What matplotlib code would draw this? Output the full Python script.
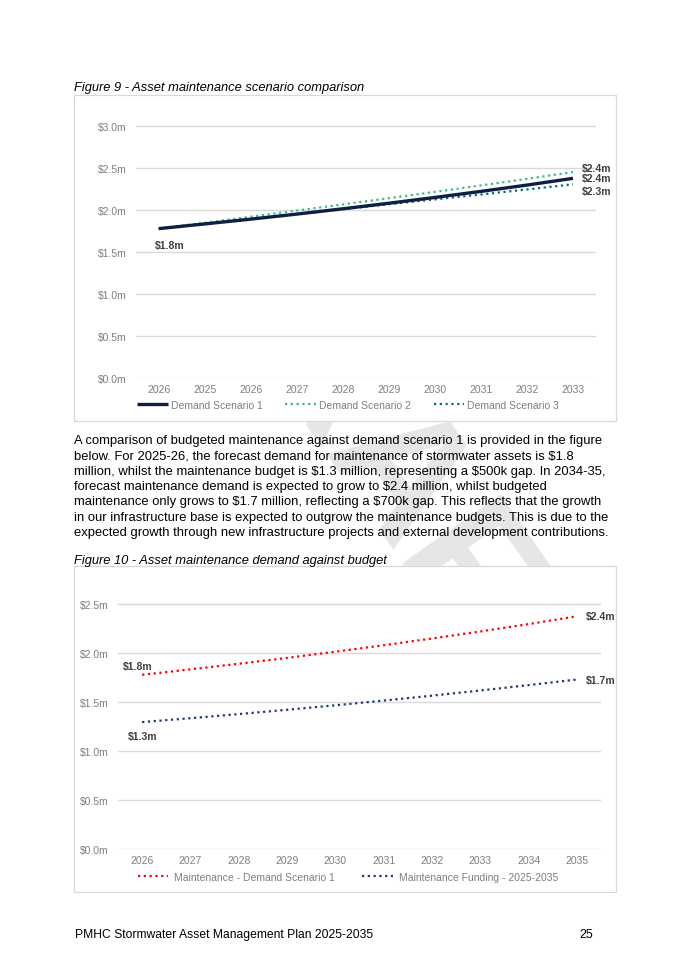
import matplotlib
matplotlib.use("Agg")
import matplotlib.pyplot as plt
from matplotlib.patches import Rectangle
from matplotlib.ticker import FuncFormatter, MultipleLocator

# ---------------- data ----------------
fig9_years = ["2026", "2025", "2026", "2027", "2028", "2029", "2030", "2031", "2032", "2033"]
scenario1 = [1.776, 1.832, 1.889, 1.949, 2.012, 2.078, 2.147, 2.219, 2.294, 2.374]
scenario2 = [1.776, 1.846, 1.918, 1.991, 2.064, 2.138, 2.213, 2.290, 2.368, 2.449]
scenario3 = [1.776, 1.833, 1.891, 1.950, 2.008, 2.066, 2.124, 2.182, 2.242, 2.303]
fig9_series = ["Demand Scenario 1", "Demand Scenario 2", "Demand Scenario 3"]

fig10_years = ["2026", "2027", "2028", "2029", "2030", "2031", "2032", "2033", "2034", "2035"]
demand1 = [1.776, 1.832, 1.889, 1.949, 2.012, 2.078, 2.147, 2.219, 2.294, 2.374]
funding = [1.293, 1.333, 1.375, 1.419, 1.465, 1.513, 1.563, 1.616, 1.671, 1.728]
fig10_series = ["Maintenance - Demand Scenario 1", "Maintenance Funding - 2025-2035"]

caption9 = "Figure 9 - Asset maintenance scenario comparison"
caption10 = "Figure 10 - Asset maintenance demand against budget"
body_lines = [
    "A comparison of budgeted maintenance against demand scenario 1 is provided in the figure",
    "below. For 2025-26, the forecast demand for maintenance of stormwater assets is $1.8",
    "million, whilst the maintenance budget is $1.3 million, representing a $500k gap. In 2034-35,",
    "forecast maintenance demand is expected to grow to $2.4 million, whilst budgeted",
    "maintenance only grows to $1.7 million, reflecting a $700k gap. This reflects that the growth",
    "in our infrastructure base is expected to outgrow the maintenance budgets. This is due to the",
    "expected growth through new infrastructure projects and external development contributions.",
]
footer_left = "PMHC Stormwater Asset Management Plan 2025-2035"
footer_right = "25"

# ---------------- layout helpers ----------------
W, H = 685, 970
plt.rcParams['font.family'] = ['Liberation Sans', 'DejaVu Sans']
fig = plt.figure(figsize=(W / 100, H / 100), dpi=100)
fig.patch.set_facecolor("white")


def fx(px):
    return px / W


def fy(py):
    return 1 - py / H


def add_axes_px(left, top, right, bottom):
    return fig.add_axes([fx(left), fy(bottom), fx(right - left), (bottom - top) / H])


# watermark (mostly hidden behind the chart boxes)
fig.text(fx(380), fy(470), "DRAFT", rotation=-55, fontsize=125, color="#e6e6e6",
         ha="center", va="center", fontweight="bold", zorder=0, parse_math=False)

# chart boxes
for (l, t, r, b) in [(73.5, 96, 616, 421.5), (73.5, 567, 616, 893)]:
    fig.patches.append(Rectangle((fx(l), fy(b)), fx(r - l), (b - t) / H,
                                 transform=fig.transFigure, facecolor="white",
                                 edgecolor="#d9d9d9", linewidth=0.9, zorder=1))

grey = "#7f7f7f"
lab = "#404040"
money = FuncFormatter(lambda v, p: f"${v:.1f}m")


def style_axes(ax, ymax, step):
    ax.set_facecolor("none")
    ax.set_zorder(3)
    for s in ax.spines.values():
        s.set_visible(False)
    ax.set_ylim(0, ymax)
    ax.yaxis.set_major_locator(MultipleLocator(step))
    ax.yaxis.set_major_formatter(money)
    ax.grid(axis="y", color="#d9d9d9", linewidth=1.0)
    ax.set_axisbelow(True)
    ax.tick_params(axis="y", length=0, pad=6.5, labelsize=7.5, labelcolor=grey)
    ax.tick_params(axis="x", length=0, pad=4.5, labelsize=7.5, labelcolor=grey)
    ax.set_xlim(-0.5, 9.5)


# ---------------- Figure 9 ----------------
fig.text(fx(74), fy(88), caption9, fontsize=9.3, style="italic", ha="left", va="center",
         parse_math=False)
ax1 = add_axes_px(135.7, 379 - 3.1 * 84.1, 596, 379)
style_axes(ax1, 3.1, 0.5)
x1 = list(range(len(fig9_years)))
ax1.set_xticks(x1)
ax1.set_xticklabels(fig9_years)
l2, = ax1.plot(x1, scenario2, color="#3dbb8a", lw=1.6, linestyle=(0, (1, 1.6)), label=fig9_series[1])
l3, = ax1.plot(x1, scenario3, color="#0b6a74", lw=1.6, linestyle=(0, (1, 1.6)), label=fig9_series[2])
l1, = ax1.plot(x1, scenario1, color="#0e1e45", lw=2.4, solid_capstyle="butt", label=fig9_series[0])
ax1.legend(handles=[l1, l2, l3], loc="center", bbox_to_anchor=(fx(348), fy(406)),
           bbox_transform=fig.transFigure, ncol=3, frameon=False, fontsize=7.5,
           handlelength=2.9, handletextpad=0.3, columnspacing=2.2, labelcolor=grey,
           borderpad=0, borderaxespad=0)

ax1.annotate(f"${scenario1[0]:.1f}m", xy=(0, scenario1[0]), xytext=(-3, -11.5),
             textcoords="offset points", ha="left", va="center", fontsize=7.5,
             fontweight="bold", color=lab)
for vals, dy in [(scenario2, 3.0), (scenario1, 0.0), (scenario3, -4.6)]:
    ax1.annotate(f"${vals[-1]:.1f}m", xy=(9, vals[-1]), xytext=(6.5, dy),
                 textcoords="offset points", ha="left", va="center", fontsize=7.5,
                 fontweight="bold", color=lab, annotation_clip=False)

# ---------------- body text ----------------
for i, line in enumerate(body_lines):
    fig.text(fx(74), fy(441 + i * 15.3), line, fontsize=9.4, ha="left", va="center",
             color="black", parse_math=False)

# ---------------- Figure 10 ----------------
fig.text(fx(74), fy(561), caption10, fontsize=9.3, style="italic", ha="left", va="center",
         parse_math=False)
ax2 = add_axes_px(118, 849.7 - 2.6 * 97.9, 601, 849.7)
style_axes(ax2, 2.6, 0.5)
x2 = list(range(len(fig10_years)))
ax2.set_xticks(x2)
ax2.set_xticklabels(fig10_years)
m1, = ax2.plot(x2, demand1, color="#ff0000", lw=1.6, linestyle=(0, (1, 1.6)), label=fig10_series[0])
m2, = ax2.plot(x2, funding, color="#1f3a6e", lw=1.6, linestyle=(0, (1, 1.6)), label=fig10_series[1])
ax2.legend(handles=[m1, m2], loc="center", bbox_to_anchor=(fx(348), fy(878)),
           bbox_transform=fig.transFigure, ncol=2, frameon=False, fontsize=7.5,
           handlelength=2.9, handletextpad=0.6, columnspacing=2.6, labelcolor=grey,
           borderpad=0, borderaxespad=0)

ax2.annotate(f"${demand1[0]:.1f}m", xy=(0, demand1[0]), xytext=(-3, 6.7),
             textcoords="offset points", ha="center", va="center", fontsize=7.5,
             fontweight="bold", color=lab)
ax2.annotate(f"${funding[0]:.1f}m", xy=(0, funding[0]), xytext=(0, -9.9),
             textcoords="offset points", ha="center", va="center", fontsize=7.5,
             fontweight="bold", color=lab)
for vals in [demand1, funding]:
    ax2.annotate(f"${vals[-1]:.1f}m", xy=(9, vals[-1]), xytext=(6.5, 0),
                 textcoords="offset points", ha="left", va="center", fontsize=7.5,
                 fontweight="bold", color=lab, annotation_clip=False)

# ---------------- footer ----------------
fig.text(fx(75), fy(935), footer_left, fontsize=8.7, ha="left", va="center", parse_math=False)
fig.text(fx(593), fy(935), footer_right, fontsize=8.9, ha="right", va="center")

fig.savefig("out.png", dpi=100, facecolor="white")
